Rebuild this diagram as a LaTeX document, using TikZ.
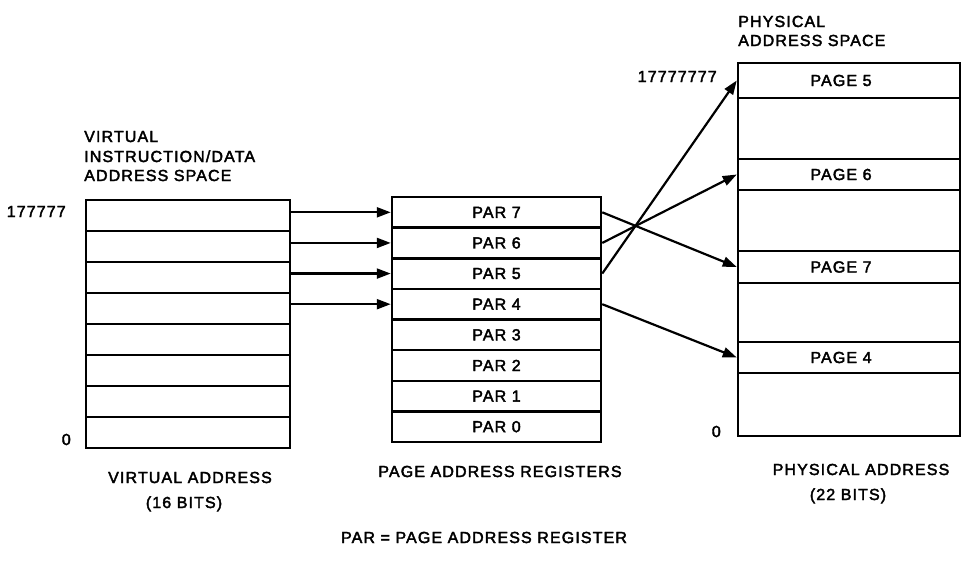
\documentclass[tikz,border=0pt]{standalone}
\usepackage{fontspec}
\setmainfont{Liberation Sans}[LetterSpace=7,FakeBold=2.5]
\usetikzlibrary{arrows.meta}
\begin{document}
\begin{tikzpicture}[x=1pt,y=-1pt,line width=2.5pt,
  lbl/.style={font=\fontsize{16}{19}\selectfont,inner sep=0pt},
  vrow/.style={draw,minimum width=204pt,minimum height=31pt,inner sep=0pt},
  prow/.style={draw,minimum width=209pt,minimum height=30.625pt,inner sep=0pt,font=\fontsize{16}{19}\selectfont},
  pgrow/.style={draw,minimum width=222pt,inner sep=0pt},
  arr/.style={-{Triangle[length=14pt,width=10pt]},line width=2.2pt}]
\useasboundingbox (0,0) rectangle (961,574);
% virtual address space
\foreach \i in {0,...,7}
  \node[vrow] (v\i) at (188,{448-15.5-31*\i}) {};
\node[lbl,anchor=base west] (vt1) at (83,142) {VIRTUAL};
\node[lbl,anchor=base west] (vt2) at (83,162) {INSTRUCTION/DATA};
\node[lbl,anchor=base west] (vt3) at (83,181) {ADDRESS SPACE};
\node[lbl,anchor=base east] (vtop) at (67,217) {177777};
\node[lbl,anchor=base east] (vbot) at (72,445) {0};
\node[lbl,anchor=base] (vb1) at (190,483) {VIRTUAL ADDRESS};
\node[lbl,anchor=base] (vb2) at (184,508) {(16 BITS)};
% page address registers
\foreach \i in {0,...,7}
  \node[prow] (p\i) at (496.5,{442-15.3125-30.625*\i}) {PAR \i};
\node[lbl,anchor=base] (pb1) at (500,477) {PAGE ADDRESS REGISTERS};
% physical address space
\node[draw,minimum width=222pt,minimum height=373pt,inner sep=0pt] (phys) at (849,249.5) {};
\node[pgrow,minimum height=35pt] (g5) at (849,80.5) {};
\node[pgrow,minimum height=31pt] (g6) at (849,174.5) {};
\node[pgrow,minimum height=32pt] (g7) at (849,267) {};
\node[pgrow,minimum height=31pt] (g4) at (849,357.5) {};
\node[lbl] (tg5) at (841,80.5) {PAGE 5};
\node[lbl] (tg6) at (841,174.5) {PAGE 6};
\node[lbl] (tg7) at (841,267) {PAGE 7};
\node[lbl] (tg4) at (841,357.5) {PAGE 4};
\node[lbl,anchor=base west] (ph1) at (737,27) {PHYSICAL};
\node[lbl,anchor=base west] (ph2) at (737,46) {ADDRESS SPACE};
\node[lbl,anchor=base east] (phtop) at (718,82) {17777777};
\node[lbl,anchor=base east] (phbot) at (722,437) {0};
\node[lbl,anchor=base] (phb1) at (861,475) {PHYSICAL ADDRESS};
\node[lbl,anchor=base] (phb2) at (848,500) {(22 BITS)};
% legend
\node[lbl,anchor=base] (leg) at (484,543) {PAR = PAGE ADDRESS REGISTER};
% connectors
\foreach \i in {7,6,5,4}
  \draw[arr] (v\i.east |- p\i) -- (p\i.west);
\draw[arr] (p7.east) -- (g7.west);
\draw[arr] (p6.east) -- (g6.west);
\draw[arr] (p5.east) -- (g5.west);
\draw[arr] (p4.east) -- (g4.west);
\end{tikzpicture}
\end{document}
